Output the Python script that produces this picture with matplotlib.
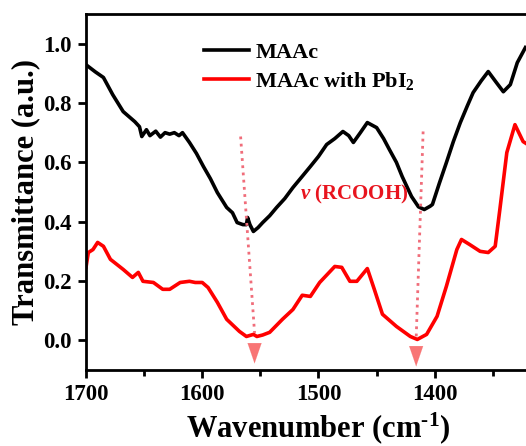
import matplotlib
matplotlib.use("Agg")
import matplotlib.pyplot as plt

plt.rcParams['font.family'] = ['Liberation Serif', 'DejaVu Serif']
plt.rcParams['font.weight'] = 'bold'
plt.rcParams['mathtext.fontset'] = 'custom'
plt.rcParams['mathtext.rm'] = 'Liberation Serif:bold'
plt.rcParams['mathtext.it'] = 'Liberation Serif:italic:bold'
plt.rcParams['mathtext.bf'] = 'Liberation Serif:bold'

# MAAc (black)
maac_x = [1700, 1692, 1685, 1677, 1668, 1658, 1654, 1652, 1648, 1645, 1640, 1636, 1632, 1628,
          1624, 1620, 1617, 1611, 1605, 1599, 1593, 1587, 1579, 1574, 1570, 1565, 1562, 1561,
          1559, 1556, 1552, 1548, 1542, 1536, 1529, 1522, 1515, 1507, 1500, 1493, 1486, 1479,
          1474, 1470, 1464, 1458, 1450, 1444, 1439, 1433, 1428, 1420, 1414, 1409, 1404, 1402,
          1396, 1390, 1384, 1378, 1372, 1367, 1360, 1354, 1347, 1341, 1335, 1329, 1322]
maac_y = [0.929, 0.905, 0.886, 0.828, 0.771, 0.737, 0.72, 0.687, 0.71, 0.69, 0.705, 0.685,
          0.70, 0.695, 0.70, 0.69, 0.70, 0.667, 0.63, 0.586, 0.545, 0.498, 0.448, 0.43, 0.397,
          0.39, 0.39, 0.414, 0.39, 0.367, 0.38, 0.397, 0.42, 0.448, 0.478, 0.515, 0.548, 0.586,
          0.62, 0.66, 0.68, 0.704, 0.69, 0.667, 0.70, 0.734, 0.717, 0.68, 0.643, 0.60, 0.552,
          0.485, 0.45, 0.441, 0.452, 0.458, 0.53, 0.599, 0.67, 0.734, 0.79, 0.835, 0.875,
          0.906, 0.869, 0.838, 0.862, 0.936, 0.987]

# MAAc with PbI2 (red)
pbi_x = [1700, 1698, 1694, 1690, 1685, 1679, 1668, 1660, 1655, 1651, 1642, 1634, 1628, 1619,
         1611, 1606, 1600, 1595, 1587, 1579, 1568, 1562, 1556, 1553, 1548, 1542, 1531, 1522,
         1514, 1507, 1499, 1486, 1480, 1473, 1467, 1458, 1452, 1445, 1433, 1421, 1415, 1407,
         1398, 1390, 1381, 1377, 1370, 1361, 1354, 1348, 1344, 1338, 1331, 1324, 1320]
pbi_y = [0.246, 0.296, 0.306, 0.33, 0.317, 0.273, 0.239, 0.212, 0.229, 0.199, 0.195, 0.172,
         0.172, 0.195, 0.199, 0.195, 0.195, 0.178, 0.128, 0.071, 0.03, 0.013, 0.02, 0.013,
         0.018, 0.027, 0.071, 0.104, 0.152, 0.148, 0.195, 0.249, 0.246, 0.199, 0.199, 0.242,
         0.172, 0.088, 0.047, 0.013, 0.003, 0.02, 0.081, 0.182, 0.306, 0.34, 0.323, 0.30,
         0.296, 0.317, 0.441, 0.633, 0.727, 0.67, 0.66]

series_labels = ['MAAc', r'MAAc with PbI$_2$']
x_ticks = [1700, 1600, 1500, 1400]
y_ticks = [0.0, 0.2, 0.4, 0.6, 0.8, 1.0]

fig = plt.figure(figsize=(5.26, 4.46), dpi=100)
ax = fig.add_axes([86/526, 76/446, 465/526, 356/446])

ax.plot(maac_x, maac_y, color='black', lw=2.6, label=series_labels[0])
ax.plot(pbi_x, pbi_y, color='#ff0000', lw=2.6, label=series_labels[1])

ax.set_xlim(1700, 1300)
ax.set_ylim(-0.1, 1.1)
ax.set_xticks(x_ticks)
ax.set_xticks([1650, 1550, 1450, 1350], minor=True)
ax.set_yticks(y_ticks)
ax.set_yticklabels([f'{v:.1f}' for v in y_ticks])

for s in ax.spines.values():
    s.set_linewidth(2.0)
ax.tick_params(axis='both', which='major', direction='out', length=6, width=2,
               labelsize=16.5, pad=4)
ax.tick_params(axis='x', which='minor', direction='out', length=4, width=2)

ax.set_xlabel(r'Wavenumber (cm$^{\text{-1}}$)', fontsize=22, fontweight='bold', labelpad=4)
ax.set_ylabel('Transmittance (a.u.)', fontsize=22, fontweight='bold', labelpad=2)

leg = ax.legend(loc='upper left', bbox_to_anchor=(0.235, 0.945), frameon=False,
                fontsize=16, handlelength=2.0, handletextpad=0.3, labelspacing=0.3,
                borderaxespad=0)

# dotted guide lines with triangular heads
guide_color = '#f06d7a'
head_color = '#f87575'
ax.plot([1567, 1555], [0.687, 0.025], ls=(0, (1, 1.6)), color=guide_color, lw=2)
ax.plot([1410, 1416], [0.704, 0.005], ls=(0, (1, 1.6)), color=guide_color, lw=2)
for xt, yt in [(1555, -0.078), (1416, -0.088)]:
    ax.annotate('', xy=(xt, yt), xytext=(xt, yt + 0.068),
                arrowprops=dict(arrowstyle='-|>,head_length=1.45,head_width=0.5',
                                color=head_color, lw=0.1, shrinkA=0, shrinkB=0))

ax.text(1469, 0.49, r'$\mathit{v}$ (RCOOH)', color='#e8141e', fontsize=15,
        fontweight='bold', ha='center', va='center')

fig.savefig('out.png', dpi=100)
